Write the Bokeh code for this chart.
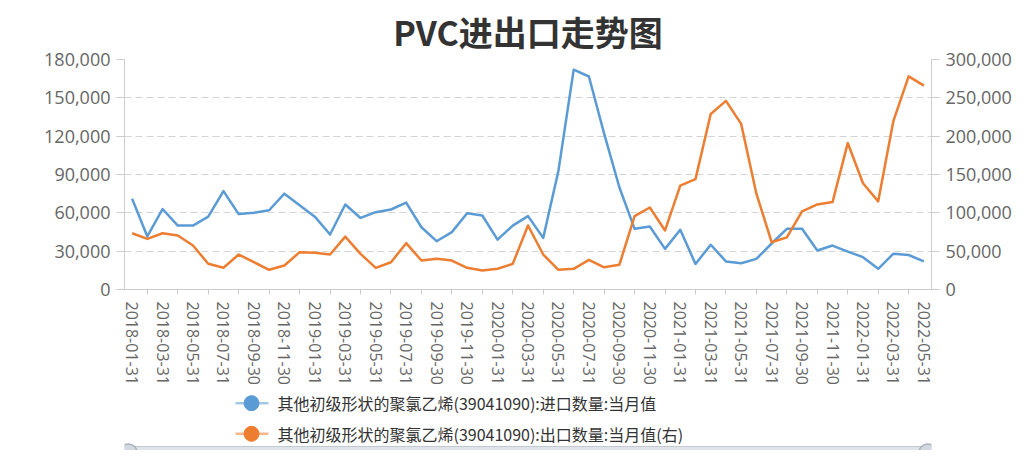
import pandas as pd
from bokeh.plotting import figure
from bokeh.layouts import column
from bokeh.models import Range1d, LinearAxis, FixedTicker, NumeralTickFormatter
from bokeh.core.properties import value
from bokeh.embed import file_html
from bokeh.resources import INLINE

# ---------------- data ----------------
dates = [d.strftime("%Y-%m-%d") for d in pd.date_range("2018-01-31", periods=53, freq="ME")]

imports_qty = [71000, 41500, 63000, 50000, 50000, 57000, 77000, 59000, 60000, 62000,
               75000, 66000, 57000, 43000, 66500, 56000, 60500, 62600, 68000, 48700,
               37800, 44900, 59700, 57900, 39000, 50000, 57400, 40400, 93000, 172000,
               166700, 122000, 80000, 47500, 49300, 31800, 46700, 20000, 35000, 22000,
               20600, 24000, 36000, 47500, 47500, 30500, 34400, 29700, 25300, 16200,
               28000, 27000, 22000]

exports_qty = [73400, 66000, 73400, 70400, 57400, 33500, 28300, 45600, 35600, 25700,
               31300, 48700, 47800, 45600, 69000, 46500, 28300, 35600, 60400, 37800,
               40000, 37800, 28300, 24800, 27000, 33500, 83500, 45600, 25700, 27000,
               38700, 29000, 32200, 95600, 107000, 77000, 135600, 144000, 229000, 246000,
               216000, 125000, 61700, 68000, 102000, 111000, 114000, 191000, 138600, 115000,
               220000, 278000, 266000]

title_text = "PVC进出口走势图"
series_names = ["其他初级形状的聚氯乙烯(39041090):进口数量:当月值",
                "其他初级形状的聚氯乙烯(39041090):出口数量:当月值(右)"]
left_ticks = [0, 30000, 60000, 90000, 120000, 150000, 180000]
right_ticks = [0, 50000, 100000, 150000, 200000, 250000, 300000]

BLUE = "#5B9BD5"
ORANGE = "#ED7D31"
AXIS_C = "#cccccc"
LABEL_C = "#666666"
W = 1017
FRAME_L, FRAME_R = 124, 931   # frame edges in page pixels

x = list(range(len(dates)))

# ---------------- main chart (with title) ----------------
p = figure(width=W, height=388, x_range=Range1d(-0.5, len(dates) - 0.5),
           y_range=Range1d(0, 180000), output_backend="svg", toolbar_location=None,
           title=title_text)
p.min_border_left = FRAME_L
p.min_border_right = W - FRAME_R
p.min_border_top = 59
p.min_border_bottom = 99
p.outline_line_color = None
p.extra_y_ranges = {"right": Range1d(0, 300000)}

p.title.align = "center"
p.title.text_font = "Noto Sans CJK SC"
p.title.text_font_size = "34px"
p.title.text_font_style = "bold"
p.title.text_color = "#333333"
p.title.standoff = 8

p.xgrid.visible = False
p.ygrid.grid_line_color = "#d4d4d4"
p.ygrid.grid_line_dash = "7 4"
p.ygrid.grid_line_width = 1

# x axis
xa = p.xaxis[0]
xa.ticker = FixedTicker(ticks=x[0::2], minor_ticks=x[1::2])
xa.major_label_overrides = {i: dates[i] for i in x[0::2]}
xa.major_label_orientation = "vertical"
xa.major_tick_out = 0
xa.major_tick_in = 0
xa.major_tick_line_color = None
xa.minor_tick_out = 5
xa.minor_tick_in = 0
xa.minor_tick_line_color = AXIS_C
xa.axis_line_color = AXIS_C
xa.major_label_standoff = 7
xa.major_label_text_font = "Open Sans"
xa.major_label_text_font_size = "16px"
xa.major_label_text_color = LABEL_C

# left y axis
ya = p.yaxis[0]
ya.ticker = FixedTicker(ticks=left_ticks)
ya.formatter = NumeralTickFormatter(format="0,0")
ya.axis_line_color = AXIS_C
ya.major_tick_line_color = AXIS_C
ya.major_tick_out = 8
ya.major_tick_in = 0
ya.minor_tick_line_color = None
ya.major_label_standoff = 6
ya.major_label_text_font = "Open Sans"
ya.major_label_text_font_size = "18px"
ya.major_label_text_color = LABEL_C

# right y axis
ra = LinearAxis(y_range_name="right", ticker=FixedTicker(ticks=right_ticks),
                formatter=NumeralTickFormatter(format="0,0"))
ra.axis_line_color = AXIS_C
ra.major_tick_line_color = AXIS_C
ra.major_tick_out = 8
ra.major_tick_in = 0
ra.minor_tick_line_color = None
ra.major_label_standoff = 6
ra.major_label_text_font = "Open Sans"
ra.major_label_text_font_size = "18px"
ra.major_label_text_color = LABEL_C
p.add_layout(ra, "right")

p.line(x, imports_qty, line_color=BLUE, line_width=2.5, line_join="round")
p.line(x, exports_qty, line_color=ORANGE, line_width=2.5, line_join="round",
       y_range_name="right")

# ---------------- legend + slider strip ----------------
# frames in the column are aligned with the main chart's frame,
# so the strip's x range is expressed in page pixels of that frame
pl = figure(width=W, height=62, x_range=Range1d(FRAME_L, FRAME_R),
            y_range=Range1d(0, 62), output_backend="svg", toolbar_location=None,
            x_axis_location=None, y_axis_location=None)
pl.min_border = 0
pl.min_border_top = pl.min_border_bottom = 0
pl.min_border_left = FRAME_L
pl.min_border_right = W - FRAME_R
pl.grid.visible = False
pl.outline_line_color = None

rows_y = [47.3, 16.7]
colors = [BLUE, ORANGE]
for yy, c, name in zip(rows_y, colors, series_names):
    pl.line([235, 268], [yy, yy], line_color=c, line_width=2.5, line_alpha=0.55)
    pl.scatter([251], [yy], size=15, fill_color=c, line_color=c)
    pl.text(x=[277], y=[yy], text=[name], text_font=value("Noto Sans CJK SC"),
            text_font_size="16px", text_color="#333333", text_baseline="middle")

# data-zoom slider (only its top part is inside the window)
pl.quad(left=[118], right=[945], top=[4], bottom=[-8], fill_color="#dfe3ea",
        line_color="#c3c9d3", line_width=1)
pl.scatter([128, 927], [-2, -2], size=17, fill_color="#d3d8e0", line_color="#aab2bf",
           line_width=1.5)

layout = column(p, pl, spacing=0)

open("out.html", "w").write(file_html(layout, INLINE))
